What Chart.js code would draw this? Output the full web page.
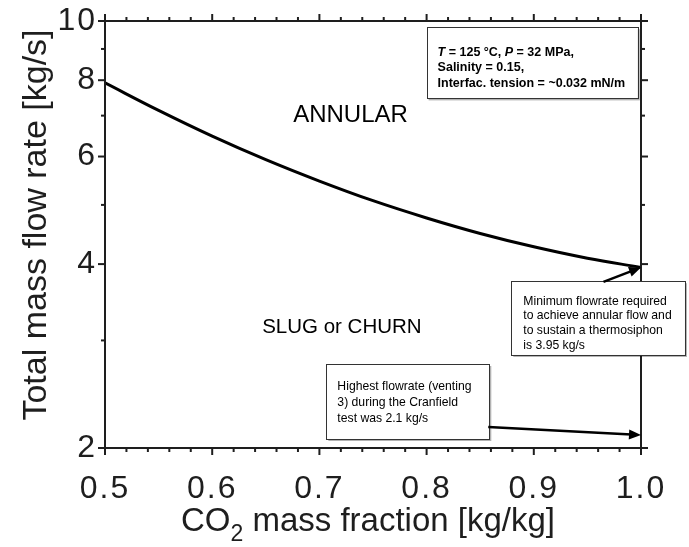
<!DOCTYPE html>
<html><head><meta charset="utf-8">
<script src="https://cdn.jsdelivr.net/npm/chart.js@4.4.1/dist/chart.umd.min.js"></script>
<style>html,body{margin:0;padding:0;background:#fff}#wrap{width:689px;height:547px;position:relative}</style>
</head><body><div id="wrap"><canvas id="c" width="689" height="547"></canvas></div>
<script>
// ---- data ----
const co2Fraction = [0.5, 0.55, 0.6, 0.65, 0.7, 0.75, 0.8, 0.85, 0.9, 0.95, 1.0];
const minFlowRate = [7.92, 7.14, 6.48, 5.93, 5.47, 5.08, 4.76, 4.49, 4.27, 4.09, 3.95];
const xTickValues = [0.5, 0.6, 0.7, 0.8, 0.9, 1.0];
const xMinorTickValues = [0.52,0.54,0.56,0.58,0.62,0.64,0.66,0.68,0.72,0.74,0.76,0.78,0.82,0.84,0.86,0.88,0.92,0.94,0.96,0.98];
const yTickValues = [2, 4, 6, 8, 10];
const yMinorTickValues = [3, 5, 7, 9];
const xTitleMain = "CO";
const xTitleSub = "2";
const xTitleRest = " mass fraction [kg/kg]";
const yTitle = "Total mass flow rate [kg/s]";
const regionLabels = ["ANNULAR", "SLUG or CHURN"];
const conditionLines = [
  [["T", true], [" = 125 °C, ", false], ["P", true], [" = 32 MPa,", false]],
  [["Salinity = 0.15,", false]],
  [["Interfac. tension = ~0.032 mN/m", false]]
];
const minFlowNote = ["Minimum flowrate required", "to achieve annular flow and", "to sustain a thermosiphon", "is 3.95 kg/s"];
const testNote = ["Highest flowrate (venting", "3) during the Cranfield", "test was 2.1 kg/s"];
const minFlowValue = 3.95;
const testFlowValue = 2.1;

// ---- layout / style (positions in data units) ----
const F = "'Liberation Sans', Arial, Helvetica, sans-serif";
const INK = '#1e1e1e';
const regionPos = [{x: 0.729, y: 7.0}, {x: 0.721, y: 3.15}];
const regionFont = [24, 20.5];
const box1 = {x0: 0.80, x1: 0.997, y0: 9.77, y1: 7.47, padX: 11, padTop: 25, lh: 15.5};
const box2 = {x0: 0.879, x1: 1.041, y0: 3.75, y1: 2.84, padX: 12, padTop: 20, lh: 14.8};
const box3 = {x0: 0.7065, x1: 0.8585, y0: 2.745, y1: 2.069, padX: 11, padTop: 23, lh: 16};
const arrow1From = {x: 0.965, y: 3.74};
const arrow2From = {x: 0.8575, y: 2.165};

const spacing = {
  id: 'spacing',
  beforeDraw(chart) { chart.ctx.letterSpacing = '2px'; },
  beforeDatasetsDraw(chart) { chart.ctx.letterSpacing = '0px'; }
};

const annot = {
  id: 'annot',
  afterDraw(chart) {
    const {ctx, chartArea: a, scales: {x, y}} = chart;
    const X = v => x.getPixelForValue(v), Y = v => y.getPixelForValue(v);
    ctx.save();
    ctx.letterSpacing = '0px';
    ctx.strokeStyle = INK; ctx.lineWidth = 2; ctx.lineCap = 'butt';
    const seg = (x1, y1, x2, y2) => { ctx.beginPath(); ctx.moveTo(x1, y1); ctx.lineTo(x2, y2); ctx.stroke(); };
    seg(a.left, a.top - 1, a.left, a.bottom + 1);
    seg(a.right, a.top - 1, a.right, a.bottom + 1);
    seg(a.left - 1, a.top, a.right + 1, a.top);
    seg(a.left - 1, a.bottom, a.right + 1, a.bottom);
    const MAJ = 7, MIN = 4;
    xTickValues.forEach(v => { const p = X(v); seg(p, a.bottom, p, a.bottom + MAJ); seg(p, a.top, p, a.top - MAJ); });
    xMinorTickValues.forEach(v => { const p = X(v); seg(p, a.bottom, p, a.bottom + MIN); seg(p, a.top, p, a.top - MIN); });
    yTickValues.forEach(v => { const p = Y(v); seg(a.left, p, a.left - MAJ, p); seg(a.right, p, a.right + MAJ, p); });
    yMinorTickValues.forEach(v => { const p = Y(v); seg(a.left, p, a.left - MIN, p); seg(a.right, p, a.right + MIN, p); });

    ctx.fillStyle = '#000';
    ctx.textAlign = 'center'; ctx.textBaseline = 'middle';
    regionLabels.forEach((t, i) => {
      ctx.font = `${regionFont[i]}px ${F}`;
      ctx.fillText(t, X(regionPos[i].x), Y(regionPos[i].y));
    });

    const drawBox = (b) => {
      const l = X(b.x0), r = X(b.x1), t = Y(b.y0), bt = Y(b.y1);
      ctx.save();
      ctx.fillStyle = 'rgba(0,0,0,0.3)';
      ctx.fillRect(l + 2, t + 2, r - l, bt - t);
      ctx.fillStyle = '#fff';
      ctx.fillRect(l, t, r - l, bt - t);
      ctx.strokeStyle = '#333'; ctx.lineWidth = 1;
      ctx.strokeRect(Math.round(l) + 0.5, Math.round(t) + 0.5, Math.round(r - l), Math.round(bt - t));
      ctx.restore();
      return {l, t};
    };
    const arrow = (fx, fy, tx, ty) => {
      const ang = Math.atan2(ty - fy, tx - fx), L = 12, W = 5;
      ctx.save();
      ctx.strokeStyle = '#000'; ctx.fillStyle = '#000'; ctx.lineWidth = 2.5;
      ctx.beginPath(); ctx.moveTo(fx, fy);
      ctx.lineTo(tx - Math.cos(ang) * L * 0.8, ty - Math.sin(ang) * L * 0.8); ctx.stroke();
      ctx.beginPath(); ctx.moveTo(tx, ty);
      ctx.lineTo(tx - Math.cos(ang) * L + Math.sin(ang) * W, ty - Math.sin(ang) * L - Math.cos(ang) * W);
      ctx.lineTo(tx - Math.cos(ang) * L - Math.sin(ang) * W, ty - Math.sin(ang) * L + Math.cos(ang) * W);
      ctx.closePath(); ctx.fill();
      ctx.restore();
    };

    let p = drawBox(box1);
    ctx.fillStyle = '#000'; ctx.textAlign = 'left'; ctx.textBaseline = 'middle';
    conditionLines.forEach((runs, i) => {
      let cx = p.l + box1.padX;
      const cy = p.t + box1.padTop + i * box1.lh;
      runs.forEach(([txt, it]) => {
        ctx.font = `${it ? 'italic ' : ''}bold 12.5px ${F}`;
        ctx.fillText(txt, cx, cy);
        cx += ctx.measureText(txt).width;
      });
    });

    p = drawBox(box2);
    ctx.fillStyle = '#000'; ctx.font = `12.2px ${F}`;
    minFlowNote.forEach((t, i) => ctx.fillText(t, p.l + box2.padX, p.t + box2.padTop + i * box2.lh));
    arrow(X(arrow1From.x), Y(arrow1From.y), X(1.0), Y(minFlowValue));

    p = drawBox(box3);
    ctx.fillStyle = '#000'; ctx.font = `12.2px ${F}`;
    testNote.forEach((t, i) => ctx.fillText(t, p.l + box3.padX, p.t + box3.padTop + i * box3.lh));
    arrow(X(arrow2From.x), Y(arrow2From.y), X(1.0), Y(testFlowValue));

    // x-axis title with subscript
    const big = `33px ${F}`, small = `23px ${F}`;
    ctx.fillStyle = INK; ctx.textBaseline = 'alphabetic'; ctx.textAlign = 'left';
    ctx.font = big; const w1 = ctx.measureText(xTitleMain).width, w3 = ctx.measureText(xTitleRest).width;
    ctx.font = small; const w2 = ctx.measureText(xTitleSub).width;
    let sx = 368 - (w1 + w2 + w3) / 2;
    const by = 531;
    ctx.font = big; ctx.fillText(xTitleMain, sx, by); sx += w1;
    ctx.font = small; ctx.fillText(xTitleSub, sx, by + 10); sx += w2;
    ctx.font = big; ctx.fillText(xTitleRest, sx, by);

    // y-axis title
    ctx.save();
    ctx.translate(37, 225); ctx.rotate(-Math.PI / 2);
    ctx.font = `34px ${F}`; ctx.textAlign = 'center'; ctx.textBaseline = 'middle';
    ctx.fillText(yTitle, 0, 0);
    ctx.restore();
    ctx.restore();
  }
};

new Chart(document.getElementById('c'), {
  type: 'scatter',
  data: {
    datasets: [{
      data: co2Fraction.map((v, i) => ({x: v, y: minFlowRate[i]})),
      showLine: true, borderColor: '#000', borderWidth: 3, pointRadius: 0,
      tension: 0.4, fill: false
    }]
  },
  options: {
    responsive: false, animation: false, devicePixelRatio: 1,
    layout: {padding: {top: 21, right: 48, left: 0, bottom: 0}},
    plugins: {legend: {display: false}, tooltip: {enabled: false}},
    scales: {
      x: {
        type: 'linear', min: 0.5, max: 1.0,
        grid: {display: false, drawTicks: false}, border: {display: false},
        afterBuildTicks: s => { s.ticks = xTickValues.map(v => ({value: v})); },
        afterFit: s => { s.height = 99; s.paddingLeft = 0; s.paddingRight = 0; },
        ticks: {color: INK, font: {family: F, size: 32}, padding: 22, callback: v => Number(v).toFixed(1), maxRotation: 0}
      },
      y: {
        type: 'logarithmic', min: 2, max: 10,
        grid: {display: false, drawTicks: false}, border: {display: false},
        afterBuildTicks: s => { s.ticks = yTickValues.map(v => ({value: v})); },
        afterFit: s => { s.width = 105; s.paddingTop = 0; s.paddingBottom = 0; },
        ticks: {color: INK, font: {family: F, size: 32}, padding: 8, callback: v => String(v)}
      }
    }
  },
  plugins: [spacing, annot]
});
</script>
</body></html>
